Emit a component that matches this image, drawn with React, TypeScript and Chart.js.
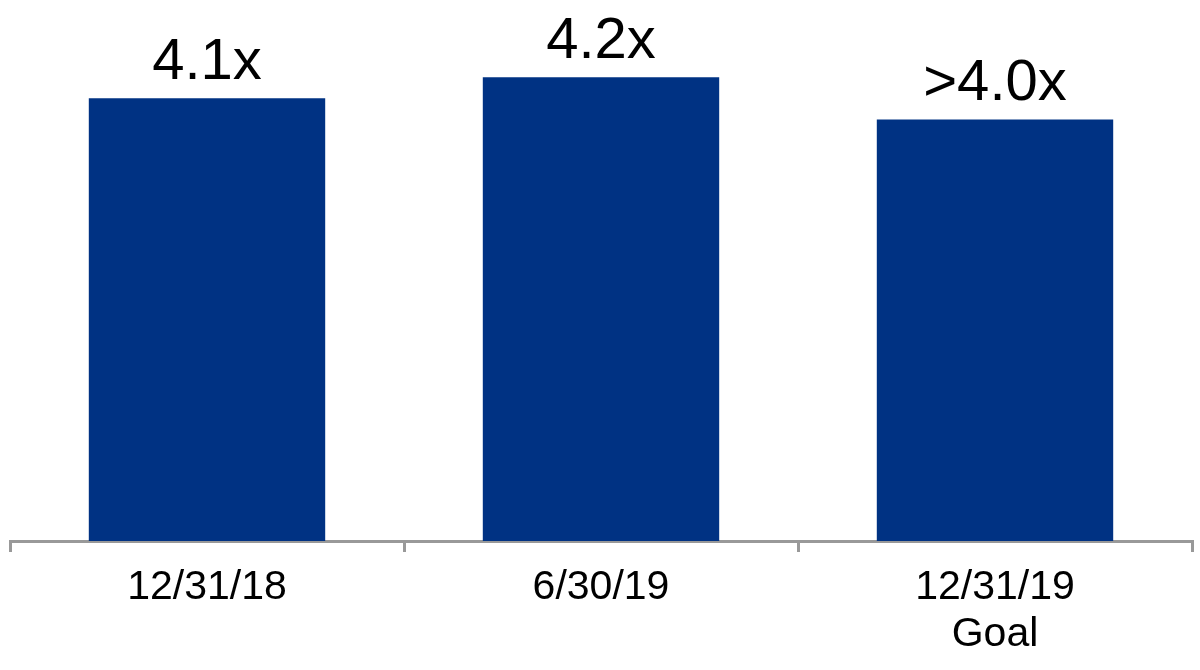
import React, { useEffect, useRef } from "react";
import { Chart, registerables } from "chart.js";

Chart.register(...registerables);

const categories: (string | string[])[] = ["12/31/18", "6/30/19", ["12/31/19", "Goal"]];
const values: number[] = [4.1, 4.2, 4.0];
const valueLabels: string[] = ["4.1x", "4.2x", ">4.0x"];

const FONT = '"Liberation Sans", Arial, sans-serif';

const barLabelPlugin = {
  id: "barLabels",
  afterDatasetsDraw(chart: any) {
    const ctx = chart.ctx;
    const meta = chart.getDatasetMeta(0);
    ctx.save();
    ctx.font = `58px ${FONT}`;
    ctx.fillStyle = "#000000";
    ctx.textAlign = "center";
    ctx.textBaseline = "alphabetic";
    meta.data.forEach((bar: any, i: number) => {
      ctx.fillText(valueLabels[i], bar.x, bar.y - 19);
    });
    ctx.restore();
  },
};

export default function App() {
  const ref = useRef<HTMLCanvasElement | null>(null);

  useEffect(() => {
    if (!ref.current) return;
    const chart = new Chart(ref.current, {
      type: "bar",
      data: {
        labels: categories,
        datasets: [
          {
            data: values,
            backgroundColor: "#003283",
            barPercentage: 0.6,
            categoryPercentage: 1,
          },
        ],
      },
      options: {
        responsive: false,
        animation: false,
        layout: { padding: { left: 10, right: 8, top: 14, bottom: 0 } },
        plugins: {
          legend: { display: false },
          tooltip: { enabled: false },
        },
        scales: {
          x: {
            grid: {
              display: true,
              offset: true,
              drawOnChartArea: false,
              drawTicks: true,
              tickLength: 11,
              color: "#999999",
              lineWidth: 3,
            },
            border: { display: true, color: "#999999", width: 3 },
            ticks: {
              color: "#000000",
              font: { family: FONT, size: 41, lineHeight: 47 / 41 },
              padding: 12,
              maxRotation: 0,
              minRotation: 0,
              autoSkip: false,
            },
          },
          y: {
            display: false,
            min: 2,
            max: 4.5,
          },
        },
      },
      plugins: [barLabelPlugin],
    });
    return () => chart.destroy();
  }, []);

  return (
    <div style={{ position: "absolute", left: 0, top: 0, width: 1200, height: 670, background: "#ffffff" }}>
      <canvas ref={ref} width={1200} height={670} />
    </div>
  );
}
